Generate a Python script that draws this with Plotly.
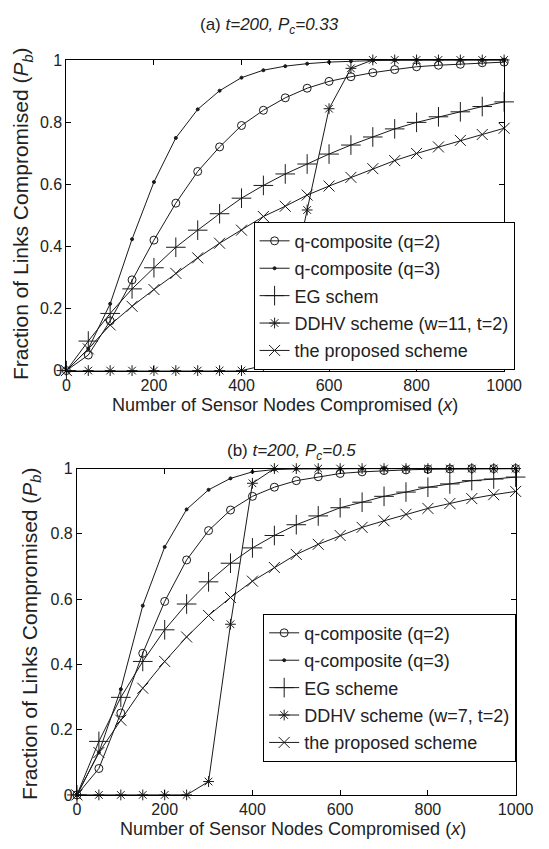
import plotly.graph_objects as go

x_vals = [0, 50, 100, 150, 200, 250, 300, 350, 400, 450, 500,
          550, 600, 650, 700, 750, 800, 850, 900, 950, 1000]

# (a) t=200, Pc=0.33
a_q2 = [0, 0.05, 0.16, 0.292, 0.42, 0.539, 0.641, 0.720, 0.789, 0.838, 0.878,
        0.909, 0.931, 0.946, 0.959, 0.969, 0.978, 0.983, 0.986, 0.991, 0.993]
a_q3 = [0, 0.07, 0.215, 0.423, 0.607, 0.749, 0.841, 0.901, 0.943, 0.967, 0.980,
        0.988, 0.993, 0.996, 0.998, 0.999, 1.0, 1.0, 1.0, 1.0, 1.0]
a_eg = [0, 0.095, 0.184, 0.263, 0.331, 0.397, 0.452, 0.505, 0.555, 0.596, 0.633,
        0.665, 0.697, 0.726, 0.752, 0.778, 0.799, 0.817, 0.833, 0.850, 0.865]
a_ddhv = [0, 0, 0, 0, 0, 0, 0, 0, 0, 0.016, 0.19,
          0.517, 0.843, 0.973, 1.0, 1.0, 1.0, 1.0, 1.0, 1.0, 1.0]
a_prop = [0, 0.07, 0.147, 0.207, 0.261, 0.313, 0.363, 0.410, 0.452, 0.496, 0.529,
          0.565, 0.594, 0.622, 0.650, 0.676, 0.699, 0.720, 0.741, 0.760, 0.780]

# (b) t=200, Pc=0.5
b_q2 = [0, 0.081, 0.251, 0.434, 0.593, 0.720, 0.810, 0.873, 0.915, 0.943, 0.963,
        0.975, 0.985, 0.990, 0.994, 0.996, 0.998, 0.999, 1.0, 1.0, 1.0]
b_q3 = [0, 0.13, 0.324, 0.580, 0.760, 0.875, 0.935, 0.970, 0.990, 0.997, 0.999,
        1.0, 1.0, 1.0, 1.0, 1.0, 1.0, 1.0, 1.0, 1.0, 1.0]
b_eg = [0, 0.164, 0.299, 0.409, 0.506, 0.585, 0.653, 0.710, 0.757, 0.795, 0.828,
        0.855, 0.880, 0.897, 0.915, 0.928, 0.943, 0.953, 0.963, 0.968, 0.974]
b_ddhv = [0, 0, 0, 0, 0, 0, 0.041, 0.523, 0.955, 1.0, 1.0,
          1.0, 1.0, 1.0, 1.0, 1.0, 1.0, 1.0, 1.0, 1.0, 1.0]
b_prop = [0, 0.13, 0.229, 0.327, 0.409, 0.484, 0.550, 0.605, 0.655, 0.697, 0.737,
          0.768, 0.795, 0.820, 0.840, 0.860, 0.878, 0.893, 0.908, 0.920, 0.930]

names_a = ["q-composite (q=2)", "q-composite (q=3)", "EG schem",
           "DDHV scheme (w=11, t=2)", "the proposed scheme"]
names_b = ["q-composite (q=2)", "q-composite (q=3)", "EG scheme",
           "DDHV scheme (w=7, t=2)", "the proposed scheme"]

x_ticks = [0, 200, 400, 600, 800, 1000]
y_ticks = [0, 0.2, 0.4, 0.6, 0.8, 1]
y_ticktext = ["0", "0.2", "0.4", "0.6", "0.8", "1"]

styles = [
    dict(symbol="circle-open", size=8),
    dict(symbol="circle", size=3),
    dict(symbol="cross-thin-open", size=14),
    dict(symbol="asterisk-open", size=9),
    dict(symbol="x-thin-open", size=11),
]

LINE = "#1a1a1a"
FONT = "Liberation Sans, Arial, sans-serif"

fig = go.Figure()

for panel, (series, names, xa, ya, leg) in enumerate([
    ([a_q2, a_q3, a_eg, a_ddhv, a_prop], names_a, "x", "y", "legend"),
    ([b_q2, b_q3, b_eg, b_ddhv, b_prop], names_b, "x2", "y2", "legend2"),
]):
    for i, (ys, nm) in enumerate(zip(series, names)):
        st = styles[i]
        fig.add_trace(go.Scatter(
            x=x_vals, y=ys, name=nm, mode="lines+markers",
            xaxis=xa, yaxis=ya, legend=leg,
            legendgroup=f"g{panel}_{i}",
            cliponaxis=False,
            line=dict(color=LINE, width=1),
            marker=dict(symbol=st["symbol"], size=st["size"], color=LINE,
                        line=dict(color=LINE, width=1)),
        ))

axis_common = dict(
    showline=True, linecolor="black", linewidth=1, mirror="ticks",
    ticks="inside", ticklen=5, tickcolor="black", showgrid=False, zeroline=False,
    tickfont=dict(family=FONT, size=16, color="#222"),
)

legend_common = dict(
    xanchor="left", yanchor="top",
    bgcolor="white", bordercolor="black", borderwidth=1,
    font=dict(family=FONT, size=18, color="#222"),
    itemwidth=30, tracegroupgap=1, traceorder="grouped",
)

fig.update_layout(
    width=549, height=849,
    margin=dict(l=0, r=0, t=0, b=0),
    paper_bgcolor="white", plot_bgcolor="white",
    showlegend=True,
    font=dict(family=FONT, color="#222"),
    xaxis=dict(domain=[65/549, 521/549], anchor="y", range=[0, 1000],
               tickvals=x_ticks, **axis_common),
    yaxis=dict(domain=[479/849, 796/849], anchor="x", range=[0, 1],
               tickvals=y_ticks, ticktext=y_ticktext, **axis_common),
    xaxis2=dict(domain=[76/549, 533/549], anchor="y2", range=[0, 1000],
                tickvals=x_ticks, **axis_common),
    yaxis2=dict(domain=[46/849, 379/849], anchor="x2", range=[0, 1],
                tickvals=y_ticks, ticktext=y_ticktext, **axis_common),
    legend=dict(x=260/549, y=(849-218)/849, **legend_common),
    legend2=dict(x=270/549, y=(849-618)/849, **legend_common),
)

def ann(text, px, py, size, angle=0):
    fig.add_annotation(text=text, x=px/549, y=1-py/849, xref="paper", yref="paper",
                       xanchor="center", yanchor="middle", showarrow=False,
                       textangle=angle, font=dict(family=FONT, size=size, color="#222"))

ann("(a) <i>t=200, P<sub>c</sub>=0.33</i>", 277, 18, 17)
ann("(b) <i>t=200, P<sub>c</sub>=0.5</i>", 300, 453, 17)
ann("Number of Sensor Nodes Compromised (<i>x</i>)", 293, 405, 18)
ann("Number of Sensor Nodes Compromised (<i>x</i>)", 301, 838, 18)
ann("Fraction of Links Compromised (<i>P<sub>b</sub></i>)", 19, 210, 21, -90)
ann("Fraction of Links Compromised (<i>P<sub>b</sub></i>)", 28, 638, 21, -90)

fig.write_html("out.html")
